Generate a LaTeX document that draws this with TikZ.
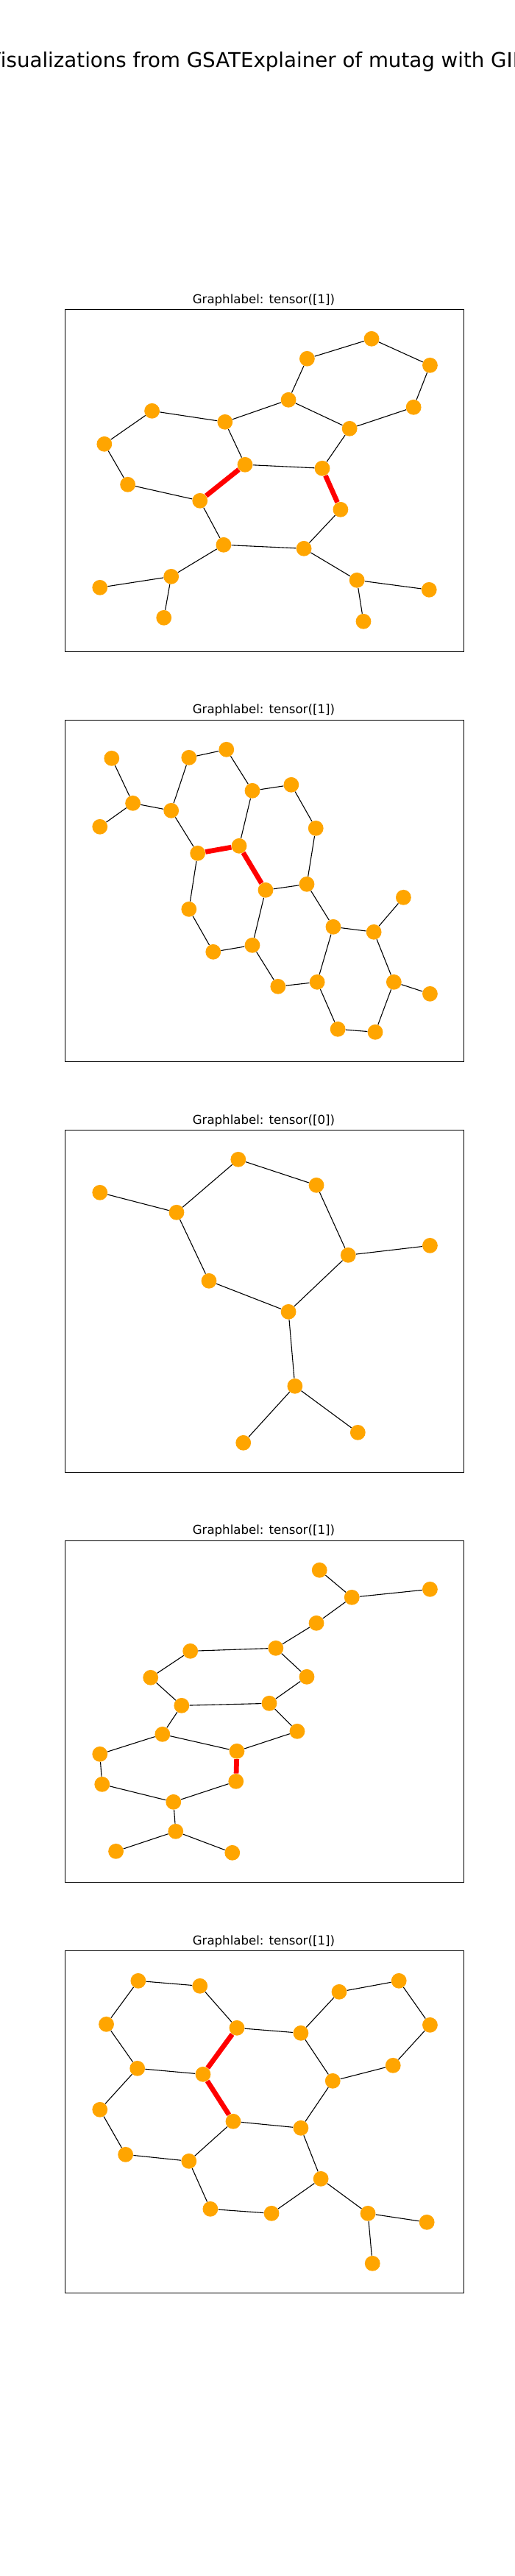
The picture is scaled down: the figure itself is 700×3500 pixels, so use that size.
\documentclass[tikz,border=0pt]{standalone}
\usepackage{fontspec}
\setmainfont{DejaVu Sans}
\tikzset{
  atom/.style={circle,fill=orange1,inner sep=0pt,minimum size=0.416cm},
  bond/.style={draw=black,line width=0.022cm},
  hot/.style={draw=red,line width=0.135cm},
  panel/.style={draw=black,line width=0.022cm,rectangle,inner sep=0pt,minimum width=10.84cm,minimum height=9.3cm},
  caption/.style={anchor=base,inner sep=0pt,font=\fontsize{9.46}{11}\selectfont},
  headline/.style={anchor=base,inner sep=0pt,font=\fontsize{15.75}{19}\selectfont}
}
\definecolor{orange1}{HTML}{FFA500}
\begin{document}
\begin{tikzpicture}[x=0.02cm,y=-0.02cm]
\useasboundingbox (0,0) rectangle (700,3500);
\node[headline] at (350,91.5) (title) {Visualizations from GSATExplainer of mutag with GIN};

\begin{scope}[x=0.019924cm,xshift=0.0098cm]
% graph 1
\node[panel] at (360.4,653) (p1) {};
\node[caption] at (359.3,412.2) (l1) {Graphlabel: tensor([1])};
\node[atom] at (506.5,460.3) (a1) {};
\node[atom] at (418.5,487.3) (a2) {};
\node[atom] at (586.2,496.3) (a3) {};
\node[atom] at (563.8,553.3) (a4) {};
\node[atom] at (393.1,543.3) (a5) {};
\node[atom] at (476.5,582.3) (a6) {};
\node[atom] at (306.5,573.3) (a7) {};
\node[atom] at (206.9,558.3) (a8) {};
\node[atom] at (141.9,603.3) (a9) {};
\node[atom] at (173.8,658.3) (a10) {};
\node[atom] at (272.3,680.3) (a11) {};
\node[atom] at (333.8,631.3) (a12) {};
\node[atom] at (439.2,636.3) (a13) {};
\node[atom] at (464.2,692.3) (a14) {};
\node[atom] at (304.6,740.3) (a15) {};
\node[atom] at (414.2,745.3) (a16) {};
\node[atom] at (233.1,783.3) (a17) {};
\node[atom] at (135.8,798.3) (a18) {};
\node[atom] at (223.1,839.3) (a19) {};
\node[atom] at (486.5,788.3) (a20) {};
\node[atom] at (585,801.3) (a21) {};
\node[atom] at (495.4,844.3) (a22) {};

\draw[bond] (a2) -- (a1) ;
\draw[bond] (a1) -- (a3) ;
\draw[bond] (a3) -- (a4) ;
\draw[bond] (a4) -- (a6) ;
\draw[bond] (a6) -- (a5) ;
\draw[bond] (a5) -- (a2) ;
\draw[bond] (a5) -- (a7) ;
\draw[bond] (a7) -- (a8) ;
\draw[bond] (a8) -- (a9) ;
\draw[bond] (a9) -- (a10) ;
\draw[bond] (a10) -- (a11) ;
\draw[bond] (a7) -- (a12) ;
\draw[bond] (a12) -- (a13) ;
\draw[bond] (a13) -- (a6) ;
\draw[bond] (a11) -- (a15) ;
\draw[bond] (a15) -- (a16) ;
\draw[bond] (a16) -- (a14) ;
\draw[bond] (a15) -- (a17) ;
\draw[bond] (a17) -- (a18) ;
\draw[bond] (a17) -- (a19) ;
\draw[bond] (a16) -- (a20) ;
\draw[bond] (a20) -- (a21) ;
\draw[bond] (a20) -- (a22) ;
\draw[hot] (a11) -- (a12) ;
\draw[hot] (a13) -- (a14) ;

% graph 2
\node[panel,minimum height=9.28cm] at (360.4,1210.5) (p2) {};
\node[caption] at (359.3,969.7) (l2) {Graphlabel: tensor([1])};
\node[atom] at (151.9,1030.3) (b1) {};
\node[atom] at (135.8,1123.3) (b2) {};
\node[atom] at (180.8,1091.3) (b3) {};
\node[atom] at (233.1,1101.3) (b4) {};
\node[atom] at (257.3,1029.3) (b5) {};
\node[atom] at (308.5,1018.3) (b6) {};
\node[atom] at (343.8,1074.3) (b7) {};
\node[atom] at (396.9,1066.3) (b8) {};
\node[atom] at (430.4,1125.3) (b9) {};
\node[atom] at (418.1,1201.3) (b10) {};
\node[atom] at (361.9,1209.3) (b11) {};
\node[atom] at (325.8,1149.3) (b12) {};
\node[atom] at (269.2,1159.3) (b13) {};
\node[atom] at (257.3,1235.3) (b14) {};
\node[atom] at (290.4,1293.3) (b15) {};
\node[atom] at (343.8,1284.3) (b16) {};
\node[atom] at (378.8,1340.3) (b17) {};
\node[atom] at (432.3,1334.3) (b18) {};
\node[atom] at (454.2,1259.3) (b19) {};
\node[atom] at (509.6,1266.3) (b20) {};
\node[atom] at (550,1219.3) (b21) {};
\node[atom] at (536.9,1334.3) (b22) {};
\node[atom] at (586.2,1350.3) (b23) {};
\node[atom] at (511.5,1402.3) (b24) {};
\node[atom] at (460.4,1398.3) (b25) {};

\draw[bond] (b1) -- (b3) ;
\draw[bond] (b2) -- (b3) ;
\draw[bond] (b3) -- (b4) ;
\draw[bond] (b4) -- (b5) ;
\draw[bond] (b5) -- (b6) ;
\draw[bond] (b6) -- (b7) ;
\draw[bond] (b7) -- (b8) ;
\draw[bond] (b8) -- (b9) ;
\draw[bond] (b9) -- (b10) ;
\draw[bond] (b10) -- (b11) ;
\draw[bond] (b7) -- (b12) ;
\draw[bond] (b4) -- (b13) ;
\draw[bond] (b13) -- (b14) ;
\draw[bond] (b14) -- (b15) ;
\draw[bond] (b15) -- (b16) ;
\draw[bond] (b16) -- (b11) ;
\draw[bond] (b16) -- (b17) ;
\draw[bond] (b17) -- (b18) ;
\draw[bond] (b18) -- (b19) ;
\draw[bond] (b19) -- (b10) ;
\draw[bond] (b19) -- (b20) ;
\draw[bond] (b20) -- (b21) ;
\draw[bond] (b20) -- (b22) ;
\draw[bond] (b22) -- (b23) ;
\draw[bond] (b22) -- (b24) ;
\draw[bond] (b24) -- (b25) ;
\draw[bond] (b25) -- (b18) ;
\draw[hot] (b13) -- (b12) ;
\draw[hot] (b12) -- (b11) ;

% graph 3
\node[panel] at (360.4,1768) (p3) {};
\node[caption] at (359.3,1527.2) (l3) {Graphlabel: tensor([0])};
\node[atom] at (135.8,1620.3) (c1) {};
\node[atom] at (240.4,1647.3) (c2) {};
\node[atom] at (324.6,1575.3) (c3) {};
\node[atom] at (431.2,1610.3) (c4) {};
\node[atom] at (474.6,1705.3) (c5) {};
\node[atom] at (586.2,1692.3) (c6) {};
\node[atom] at (284.6,1740.3) (c7) {};
\node[atom] at (393.1,1782.3) (c8) {};
\node[atom] at (401.9,1883.3) (c9) {};
\node[atom] at (331.5,1960.3) (c10) {};
\node[atom] at (487.7,1946.3) (c11) {};

\draw[bond] (c1) -- (c2) ;
\draw[bond] (c2) -- (c3) ;
\draw[bond] (c3) -- (c4) ;
\draw[bond] (c4) -- (c5) ;
\draw[bond] (c5) -- (c6) ;
\draw[bond] (c2) -- (c7) ;
\draw[bond] (c7) -- (c8) ;
\draw[bond] (c8) -- (c5) ;
\draw[bond] (c8) -- (c9) ;
\draw[bond] (c9) -- (c10) ;
\draw[bond] (c9) -- (c11) ;

% graph 4
\node[panel,minimum height=9.28cm] at (360.4,2325.5) (p4) {};
\node[caption] at (359.3,2084.7) (l4) {Graphlabel: tensor([1])};
\node[atom] at (435.4,2133.3) (d1) {};
\node[atom] at (479.6,2170.3) (d2) {};
\node[atom] at (586.2,2159.3) (d3) {};
\node[atom] at (431.2,2205.3) (d4) {};
\node[atom] at (375.8,2239.3) (d5) {};
\node[atom] at (259.2,2243.3) (d6) {};
\node[atom] at (205,2279.3) (d7) {};
\node[atom] at (418.1,2278.3) (d8) {};
\node[atom] at (247.3,2317.3) (d9) {};
\node[atom] at (366.9,2314.3) (d10) {};
\node[atom] at (221.2,2356.3) (d11) {};
\node[atom] at (405,2352.3) (d12) {};
\node[atom] at (322.7,2379.3) (d13) {};
\node[atom] at (135.8,2383.3) (d14) {};
\node[atom] at (138.8,2424.3) (d15) {};
\node[atom] at (321.5,2420.3) (d16) {};
\node[atom] at (236.2,2448.3) (d17) {};
\node[atom] at (239.2,2488.3) (d18) {};
\node[atom] at (157.7,2515.3) (d19) {};
\node[atom] at (316.5,2517.3) (d20) {};

\draw[bond] (d1) -- (d2) ;
\draw[bond] (d2) -- (d3) ;
\draw[bond] (d2) -- (d4) ;
\draw[bond] (d4) -- (d5) ;
\draw[bond] (d5) -- (d6) ;
\draw[bond] (d6) -- (d7) ;
\draw[bond] (d7) -- (d9) ;
\draw[bond] (d9) -- (d10) ;
\draw[bond] (d10) -- (d8) ;
\draw[bond] (d8) -- (d5) ;
\draw[bond] (d9) -- (d11) ;
\draw[bond] (d10) -- (d12) ;
\draw[bond] (d12) -- (d13) ;
\draw[bond] (d11) -- (d13) ;
\draw[bond] (d11) -- (d14) ;
\draw[bond] (d14) -- (d15) ;
\draw[bond] (d15) -- (d17) ;
\draw[bond] (d17) -- (d16) ;
\draw[bond] (d17) -- (d18) ;
\draw[bond] (d18) -- (d19) ;
\draw[bond] (d18) -- (d20) ;
\draw[hot] (d13) -- (d16) ;

% graph 5
\node[panel] at (360.4,2883) (p5) {};
\node[caption] at (359.3,2642.2) (l5) {Graphlabel: tensor([1])};
\node[atom] at (188.1,2691.3) (e1) {};
\node[atom] at (272.3,2698.3) (e2) {};
\node[atom] at (144.6,2750.3) (e3) {};
\node[atom] at (322.7,2755.3) (e4) {};
\node[atom] at (410,2762.3) (e5) {};
\node[atom] at (462.3,2706.3) (e6) {};
\node[atom] at (543.8,2691.3) (e7) {};
\node[atom] at (586.2,2751.3) (e8) {};
\node[atom] at (535.8,2806.3) (e9) {};
\node[atom] at (453.5,2827.3) (e10) {};
\node[atom] at (186.9,2810.3) (e11) {};
\node[atom] at (276.5,2818.3) (e12) {};
\node[atom] at (135.8,2866.3) (e13) {};
\node[atom] at (317.7,2882.3) (e14) {};
\node[atom] at (410,2891.3) (e15) {};
\node[atom] at (170.8,2927.3) (e16) {};
\node[atom] at (257.3,2936.3) (e17) {};
\node[atom] at (437.3,2960.3) (e18) {};
\node[atom] at (286.5,3001.3) (e19) {};
\node[atom] at (370,3007.3) (e20) {};
\node[atom] at (501.5,3007.3) (e21) {};
\node[atom] at (581.9,3019.3) (e22) {};
\node[atom] at (507.7,3075.3) (e23) {};

\draw[bond] (e1) -- (e2) ;
\draw[bond] (e1) -- (e3) ;
\draw[bond] (e2) -- (e4) ;
\draw[bond] (e3) -- (e11) ;
\draw[bond] (e4) -- (e5) ;
\draw[bond] (e5) -- (e6) ;
\draw[bond] (e6) -- (e7) ;
\draw[bond] (e7) -- (e8) ;
\draw[bond] (e8) -- (e9) ;
\draw[bond] (e9) -- (e10) ;
\draw[bond] (e5) -- (e10) ;
\draw[bond] (e10) -- (e15) ;
\draw[bond] (e11) -- (e12) ;
\draw[bond] (e11) -- (e13) ;
\draw[bond] (e13) -- (e16) ;
\draw[bond] (e16) -- (e17) ;
\draw[bond] (e17) -- (e14) ;
\draw[bond] (e14) -- (e15) ;
\draw[bond] (e17) -- (e19) ;
\draw[bond] (e19) -- (e20) ;
\draw[bond] (e20) -- (e18) ;
\draw[bond] (e15) -- (e18) ;
\draw[bond] (e18) -- (e21) ;
\draw[bond] (e21) -- (e22) ;
\draw[bond] (e21) -- (e23) ;
\draw[hot] (e4) -- (e12) ;
\draw[hot] (e12) -- (e14) ;
\end{scope}

\end{tikzpicture}
\end{document}
